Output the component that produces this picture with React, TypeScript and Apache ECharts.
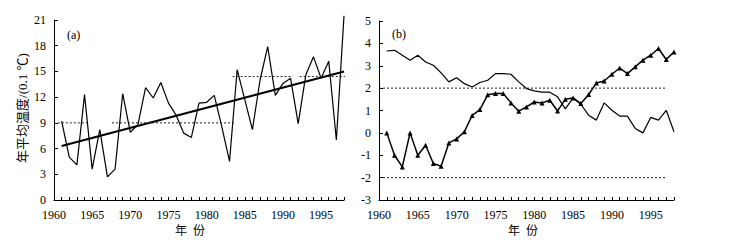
import React, { useEffect, useRef } from "react";
import * as echarts from "echarts";

const years = [
  1961, 1962, 1963, 1964, 1965, 1966, 1967, 1968, 1969, 1970,
  1971, 1972, 1973, 1974, 1975, 1976, 1977, 1978, 1979, 1980,
  1981, 1982, 1983, 1984, 1985, 1986, 1987, 1988, 1989, 1990,
  1991, 1992, 1993, 1994, 1995, 1996, 1997, 1998,
];

// (a) annual mean temperature, unit 0.1 ℃
const tempA = [
  9.2, 5.0, 4.1, 12.3, 3.6, 8.2, 2.7, 3.6, 12.4, 7.9,
  8.8, 13.1, 11.9, 13.7, 11.3, 9.9, 7.8, 7.3, 11.3, 11.4,
  12.2, 8.5, 4.5, 15.2, 11.7, 8.2, 14.0, 17.9, 12.2, 13.6,
  14.2, 8.9, 14.6, 16.7, 14.2, 16.2, 7.0, 21.5,
];
const trendYears = [1961, 1998];
const trendValues = [6.3, 15.0];
// dotted segment means in (a): [startYear, endYear, value]
const segmentsA = [
  [1960.5, 1964.7, 9.0],
  [1967.6, 1983.8, 9.0],
  [1983.4, 1991.3, 14.4],
  [1992.2, 1998.4, 14.4],
];

// (b) Mann-Kendall statistics
const ufB = [
  0.0, -1.0, -1.52, 0.0, -1.0, -0.55, -1.37, -1.49, -0.45, -0.27,
  0.05, 0.78, 1.04, 1.7, 1.76, 1.76, 1.34, 0.97, 1.16, 1.38,
  1.34, 1.46, 0.98, 1.5, 1.56, 1.31, 1.71, 2.23, 2.32, 2.62,
  2.9, 2.65, 2.95, 3.25, 3.47, 3.77, 3.28, 3.62,
];
const ubB = [
  3.66, 3.69, 3.47, 3.25, 3.47, 3.17, 3.02, 2.68, 2.28, 2.46,
  2.2, 2.05, 2.25, 2.35, 2.65, 2.65, 2.62, 2.28, 1.98, 1.88,
  1.82, 1.82, 1.61, 1.07, 1.56, 1.28, 0.79, 0.57, 1.34, 1.01,
  0.75, 0.75, 0.2, 0.0, 0.69, 0.57, 1.01, 0.05,
];
const critYears = [1960, 1997];
const critLevels = [2, -2];

const yTicksA = { min: 0, max: 21, interval: 3 };
const yTicksB = { min: -3, max: 5, interval: 1 };

const FONT = '"Liberation Serif", "Times New Roman", "Noto Sans CJK SC", serif';

export default function App() {
  const ref = useRef<HTMLDivElement>(null);
  useEffect(() => {
    document.body.style.margin = "0";
    const chart = echarts.init(ref.current!, null, { renderer: "svg" });
    const xAxisBase = (gridIndex: number) => ({
      type: "value",
      gridIndex,
      min: 1960,
      max: 1998,
      interval: 1,
      axisLine: { show: true, onZero: false, lineStyle: { color: "#000", width: 1 } },
      axisTick: { show: true, inside: true, length: 3, lineStyle: { color: "#000" } },
      axisLabel: {
        show: true,
        margin: 9,
        color: "#000",
        fontFamily: FONT,
        fontSize: 12,
        formatter: (v: number) => (v % 5 === 0 ? String(v) : ""),
      },
      splitLine: { show: false },
    });
    const yAxisBase = (gridIndex: number, t: { min: number; max: number; interval: number }) => ({
      type: "value",
      gridIndex,
      min: t.min,
      max: t.max,
      interval: t.interval,
      axisLine: { show: true, onZero: false, lineStyle: { color: "#000", width: 1 } },
      axisTick: { show: true, inside: true, length: 4, lineStyle: { color: "#000" } },
      axisLabel: { margin: 8, color: "#000", fontFamily: FONT, fontSize: 12 },
      splitLine: { show: false },
    });
    const dotted = { color: "#222", width: 1, type: [2, 2] as any };
    const series: any[] = [
      {
        type: "line",
        xAxisIndex: 0,
        yAxisIndex: 0,
        data: years.map((y, i) => [y, tempA[i]]),
        symbol: "none",
        clip: false,
        lineStyle: { color: "#000", width: 1.2 },
      },
      {
        type: "line",
        xAxisIndex: 0,
        yAxisIndex: 0,
        data: trendYears.map((y, i) => [y, trendValues[i]]),
        symbol: "none",
        lineStyle: { color: "#000", width: 2 },
      },
      ...segmentsA.map((s) => ({
        type: "line",
        xAxisIndex: 0,
        yAxisIndex: 0,
        data: [
          [s[0], s[2]],
          [s[1], s[2]],
        ],
        symbol: "none",
        clip: false,
        lineStyle: dotted,
      })),
      {
        type: "line",
        xAxisIndex: 1,
        yAxisIndex: 1,
        data: years.map((y, i) => [y, ubB[i]]),
        symbol: "none",
        lineStyle: { color: "#000", width: 1.2 },
      },
      {
        type: "line",
        xAxisIndex: 1,
        yAxisIndex: 1,
        data: years.map((y, i) => [y, ufB[i]]),
        symbol: "triangle",
        symbolSize: 5,
        itemStyle: { color: "#000" },
        lineStyle: { color: "#000", width: 1.5 },
      },
      ...critLevels.map((lv) => ({
        type: "line",
        xAxisIndex: 1,
        yAxisIndex: 1,
        data: critYears.map((y) => [y, lv]),
        symbol: "none",
        lineStyle: dotted,
      })),
    ];
    chart.setOption({
      animation: false,
      backgroundColor: "#fff",
      grid: [
        { left: 54, right: 402, top: 20, bottom: 50 },
        { left: 379, right: 72, top: 21, bottom: 50 },
      ],
      xAxis: [xAxisBase(0), xAxisBase(1)],
      yAxis: [yAxisBase(0, yTicksA), yAxisBase(1, yTicksB)],
      series,
      graphic: [
        {
          type: "text",
          x: 67,
          y: 35,
          style: { text: "(a)", fontFamily: FONT, fontSize: 12, fill: "#000", verticalAlign: "middle" },
        },
        {
          type: "text",
          x: 392,
          y: 34,
          style: { text: "(b)", fontFamily: FONT, fontSize: 12, fill: "#000", verticalAlign: "middle" },
        },
        {
          type: "text",
          x: 190,
          y: 231,
          style: { text: "年  份", fontFamily: FONT, fontSize: 12, fill: "#000", align: "center", verticalAlign: "middle" },
        },
        {
          type: "text",
          x: 523,
          y: 231,
          style: { text: "年  份", fontFamily: FONT, fontSize: 12, fill: "#000", align: "center", verticalAlign: "middle" },
        },
        {
          type: "text",
          x: 22,
          y: 108,
          rotation: Math.PI / 2,
          style: {
            text: "年平均温度/(0.1 ℃)",
            fontFamily: FONT,
            fontSize: 13,
            fill: "#000",
            align: "center",
            verticalAlign: "middle",
          },
        },
      ],
    });
    return () => chart.dispose();
  }, []);
  return <div ref={ref} style={{ width: 746, height: 250 }} />;
}
